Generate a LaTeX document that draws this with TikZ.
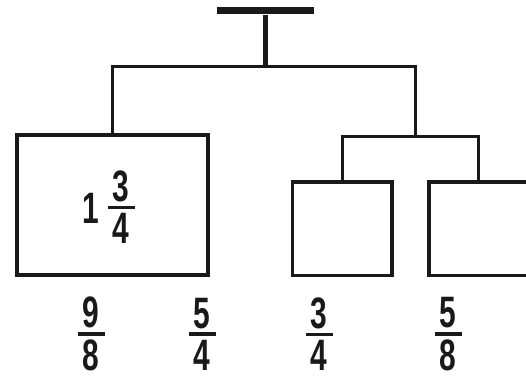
\documentclass[tikz,border=0pt]{standalone}
\usepackage{fontspec}
\newfontfamily\numfont[FakeStretch=0.68]{Liberation Sans}
\usetikzlibrary{positioning}
\definecolor{ink}{gray}{0.1}
\newcommand{\numfrac}[2]{\vbox{\hbox to 27pt{\hss#1\hss}\kern4pt\hrule height 3.5pt\kern4pt\hbox to 27pt{\hss#2\hss}}}

\begin{document}
\begin{tikzpicture}[
    x=1pt, y=-1pt,
    inner sep=0pt,
    font=\numfont\bfseries\fontsize{44}{46}\selectfont,
    text=ink,
    box/.style={draw=ink, line width=3.5pt},
    branch/.style={draw=ink, line width=3pt},
    stem/.style={draw=ink, line width=5pt}
]
    \useasboundingbox (0,0) rectangle (526,379);
    \clip (0,0) rectangle (526,379);

    % Nodes
    \node[fill=ink, minimum width=97pt, minimum height=7pt] (top) at (265.5,11) {};
    \node[box, minimum width=191pt, minimum height=140pt] (whole) at (112.5,205) {};
    \node (ones) at (91,208) {1};
    \node (mixed) at (121,207) {\numfrac{3}{4}};

    % Right branch
    \node[box, minimum width=99.5pt, minimum height=93.5pt] (partA) at (342,228.5) {};
    \node[box, minimum width=99.5pt, minimum height=93.5pt, right=33.5pt of partA] (partB) {};

    % Fractions below
    \node (nineeighths) at (91,334) {\numfrac{9}{8}};
    \node (fivefourths) at (202,334) {\numfrac{5}{4}};
    \node (threefourths) at (319,334) {\numfrac{3}{4}};
    \node (fiveeighths) at (448,334) {\numfrac{5}{8}};

    % Joints
    \coordinate (hub) at (265.5,67);
    \coordinate (split) at (415,136.5);

    % Lines
    \draw[stem] (top) -- (hub);
    \draw[branch] (whole.north) |- (hub) -| (split);
    \draw[branch] (partA.north) |- (split) -| (partB.north);
\end{tikzpicture}
\end{document}
